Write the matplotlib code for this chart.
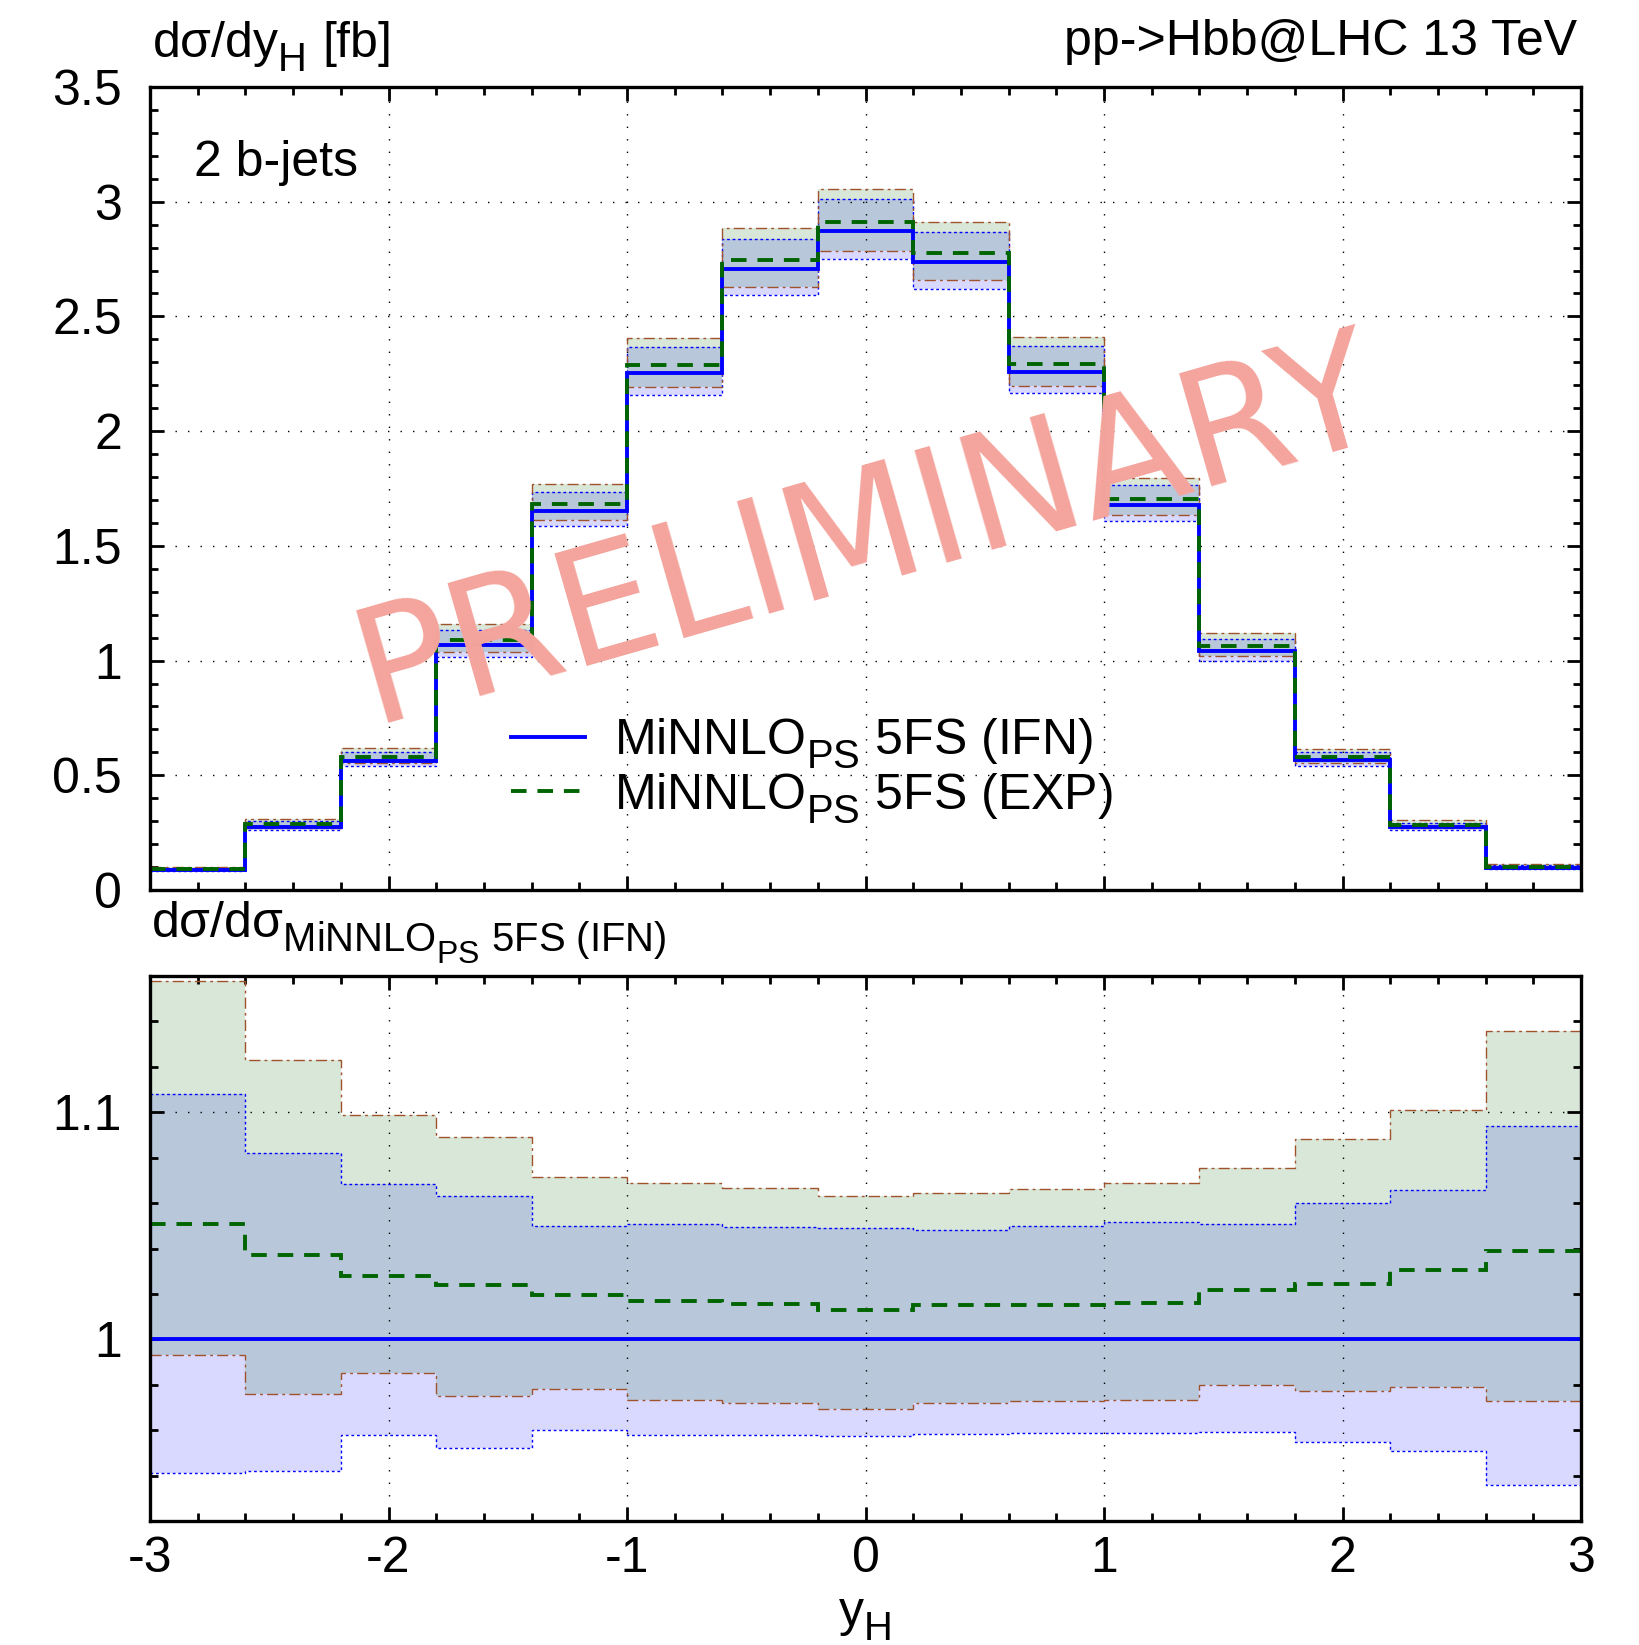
import numpy as np
import matplotlib
matplotlib.use("Agg")
import matplotlib.pyplot as plt
import matplotlib._mathtext as _mt
from matplotlib.ticker import MultipleLocator
from matplotlib.lines import Line2D

# larger and lower sub-scripts (closer to the reference rendering)
_mt.SHRINK_FACTOR = 0.8
_mt.FontConstantsBase.sub1 = 0.55

plt.rcParams['font.family'] = ['Liberation Sans', 'DejaVu Sans']
plt.rcParams['mathtext.fontset'] = 'custom'
plt.rcParams['mathtext.rm'] = 'Liberation Sans'
plt.rcParams['mathtext.it'] = 'Liberation Sans:italic'
plt.rcParams['mathtext.bf'] = 'Liberation Sans:bold'

# ---------------- data ----------------
edges = [-3.0, -2.6, -2.2, -1.8, -1.4, -1.0, -0.6, -0.2, 0.2, 0.6, 1.0, 1.4, 1.8, 2.2, 2.6, 3.0]

# dsigma/dy_H [fb], MiNNLO_PS 5FS (IFN) central
ifn_central = [0.088, 0.276, 0.563, 1.066, 1.651, 2.252, 2.705, 2.873,
               2.736, 2.259, 1.679, 1.042, 0.566, 0.276, 0.098]

# ratios to IFN central
exp_ratio = [1.051, 1.037, 1.028, 1.024, 1.0196, 1.017, 1.0155, 1.013,
             1.0149, 1.0152, 1.0158, 1.0219, 1.0245, 1.0306, 1.0387]
ifn_hi_ratio = [1.108, 1.082, 1.0685, 1.063, 1.050, 1.051, 1.0495, 1.049,
                1.048, 1.0498, 1.0517, 1.051, 1.0602, 1.0658, 1.094]
ifn_lo_ratio = [0.941, 0.942, 0.958, 0.952, 0.960, 0.958, 0.958, 0.9574,
                0.9582, 0.9586, 0.9586, 0.9592, 0.955, 0.9508, 0.9359]
exp_hi_ratio = [1.158, 1.123, 1.0987, 1.089, 1.0715, 1.069, 1.0666, 1.063,
                1.0643, 1.0663, 1.0687, 1.0754, 1.0882, 1.1008, 1.1357]
exp_lo_ratio = [0.993, 0.976, 0.985, 0.975, 0.978, 0.9735, 0.972, 0.9694,
                0.9718, 0.9727, 0.9735, 0.9798, 0.9774, 0.979, 0.973]

labels = [r'MiNNLO$_\mathrm{PS}$ 5FS (IFN)', r'MiNNLO$_\mathrm{PS}$ 5FS (EXP)']

# ---------------- styling ----------------
W, H = 1639, 1645
FS = 36
c_ifn = '#0000ff'
c_exp = '#006400'
c_brown = '#a0522d'

fig = plt.figure(figsize=(W / 100, H / 100), dpi=100)
ax1 = fig.add_axes([150 / W, 1 - 890 / H, 1431 / W, 803 / H])
ax2 = fig.add_axes([150 / W, 1 - 1521 / H, 1431 / W, 545 / H])

ifn_c = np.array(ifn_central)


def draw(ax, central, er, ih, il, eh, el):
    central = np.asarray(central)
    ax.stairs(central * np.asarray(ih), edges, baseline=central * np.asarray(il), fill=True,
              color=c_ifn, alpha=0.15, lw=0, zorder=2)
    ax.stairs(central * np.asarray(eh), edges, baseline=central * np.asarray(el), fill=True,
              color=c_exp, alpha=0.15, lw=0, zorder=2)
    for arr in (ih, il):
        ax.stairs(central * np.asarray(arr), edges, baseline=None, color=c_ifn, lw=1.0,
                  ls=(0, (2, 2)), zorder=3)
    for arr in (eh, el):
        ax.stairs(central * np.asarray(arr), edges, baseline=None, color=c_brown, lw=1.0,
                  ls=(0, (8, 3, 2, 3)), zorder=3)
    ax.stairs(central, edges, baseline=None, color=c_ifn, lw=2.8, zorder=5)
    ax.stairs(central * np.asarray(er), edges, baseline=None, color=c_exp, lw=2.8,
              ls=(0, (4.0, 2.8)), zorder=6)


draw(ax1, ifn_c, exp_ratio, ifn_hi_ratio, ifn_lo_ratio, exp_hi_ratio, exp_lo_ratio)
draw(ax2, np.ones(len(ifn_c)), exp_ratio, ifn_hi_ratio, ifn_lo_ratio, exp_hi_ratio, exp_lo_ratio)

for ax in (ax1, ax2):
    ax.set_xlim(-3, 3)
    ax.xaxis.set_major_locator(MultipleLocator(1))
    ax.xaxis.set_minor_locator(MultipleLocator(0.2))
    ax.tick_params(which='both', direction='in', top=True, right=True, width=2.0,
                   labelsize=FS)
    ax.tick_params(which='major', length=10)
    ax.tick_params(which='minor', length=5.5)
    ax.tick_params(axis='y', pad=20)
    ax.tick_params(axis='x', pad=11)
    ax.grid(which='major', color='black', ls=(0, (1, 8)), lw=1.0)
    ax.set_axisbelow(False)
    for s in ax.spines.values():
        s.set_linewidth(2.4)
        s.set_zorder(10)

ax1.set_ylim(0, 3.5)
ax1.yaxis.set_minor_locator(MultipleLocator(0.1))
ax1.set_yticks([0, 0.5, 1, 1.5, 2, 2.5, 3, 3.5])
ax1.set_yticklabels(['0', '0.5', '1', '1.5', '2', '2.5', '3', '3.5'])
ax1.tick_params(axis='x', labelbottom=False)

ax2.set_ylim(0.92, 1.16)
ax2.yaxis.set_minor_locator(MultipleLocator(0.02))
ax2.set_yticks([1.0, 1.1])
ax2.set_yticklabels(['1', '1.1'])
ax2.set_xticks([-3, -2, -1, 0, 1, 2, 3])
ax2.set_xticklabels(['-3', '-2', '-1', '0', '1', '2', '3'])

# legend
handles = [Line2D([], [], color=c_ifn, lw=2.8),
           Line2D([], [], color=c_exp, lw=2.8, ls=(0, (4.0, 2.8)))]
leg = ax1.legend(handles, labels, loc='upper left', frameon=False, fontsize=FS,
                 bbox_to_anchor=((511 - 150) / 1431, (890 - 716) / 803),
                 borderaxespad=0, borderpad=0, handlelength=1.47, handletextpad=0.6,
                 labelspacing=0.0)
leg.set_zorder(20)

# texts
fig.text(152 / W, 1 - 57 / H, r'dσ/dy$_\mathrm{H}$ [fb]', fontsize=FS, ha='left', va='baseline')
fig.text(1577 / W, 1 - 55 / H, 'pp->Hbb@LHC 13 TeV', fontsize=FS, ha='right', va='baseline')
ax1.text((194 - 150) / 1431, (890 - 176) / 803, '2 b-jets', transform=ax1.transAxes,
         fontsize=FS, ha='left', va='baseline')
fig.text(151 / W, 1 - 937 / H,
         r'dσ/dσ$_{\mathrm{MiNNLO}_{\mathrm{PS}}\mathrm{\ 5FS\ (IFN)}}$',
         fontsize=FS, ha='left', va='baseline')
fig.text(865 / W, 1 - 1626 / H, r'y$_\mathrm{H}$', fontsize=FS, ha='center', va='baseline')

# watermark
fig.text(868 / W, 1 - 535 / H, 'PRELIMINARY', fontsize=115, color='#f4a49c',
         family='DejaVu Sans', rotation=16, ha='center', va='center', zorder=1,
         rotation_mode='anchor')

fig.savefig('out.png', dpi=100)
